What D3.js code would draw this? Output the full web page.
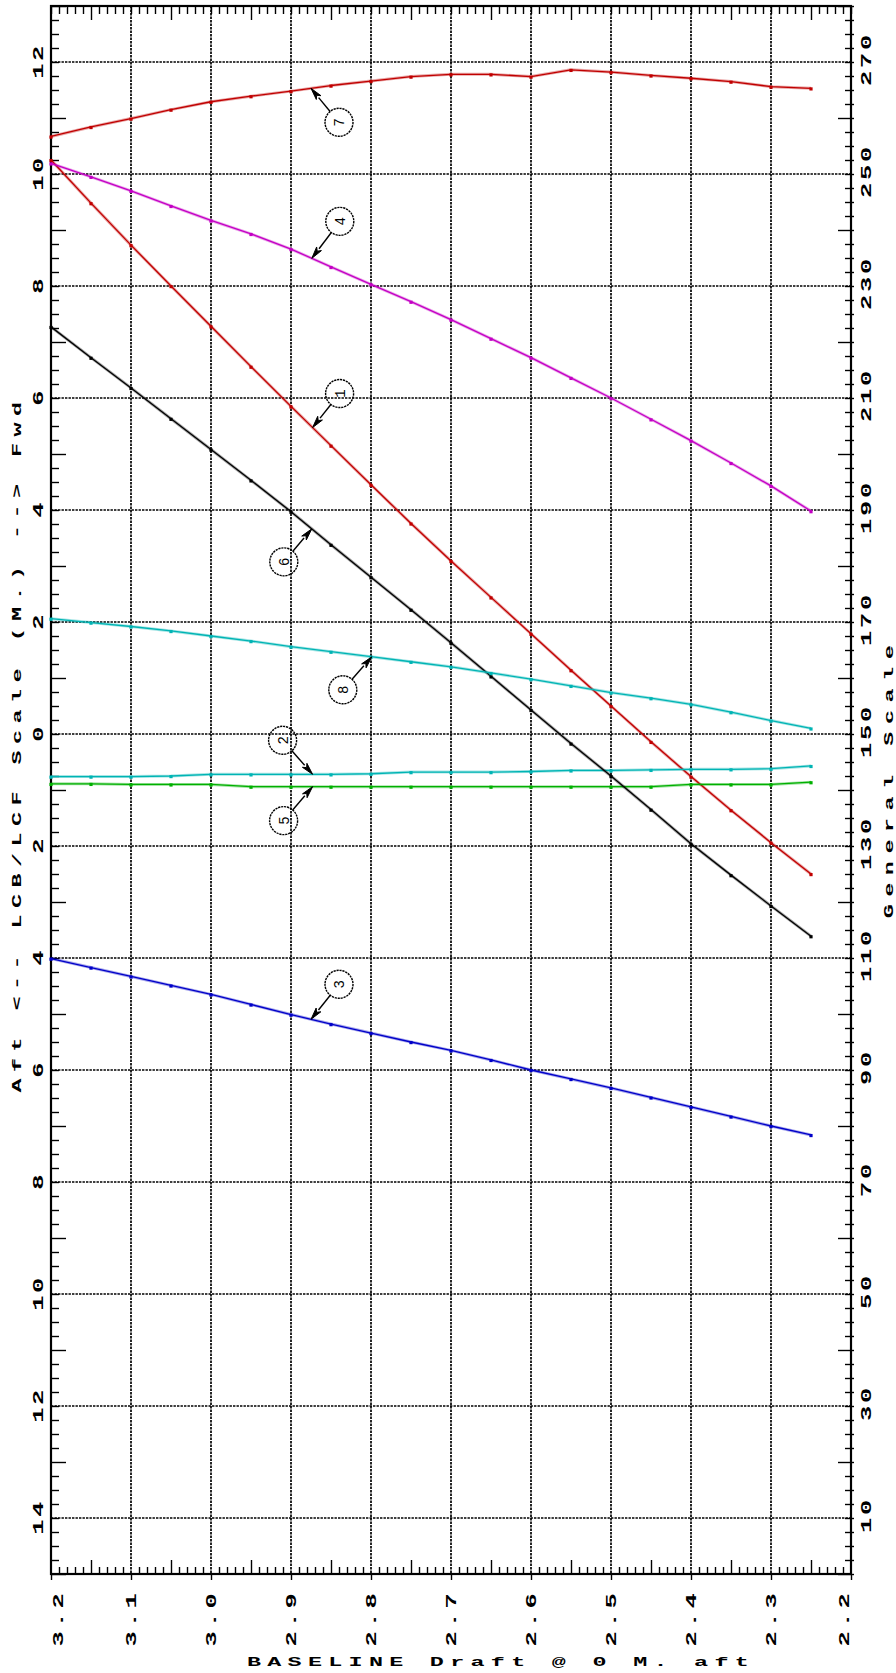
<!DOCTYPE html>
<html>
<head>
<meta charset="utf-8">
<script src="https://cdn.jsdelivr.net/npm/d3@7"></script>
<style>
  html, body { margin: 0; padding: 0; background: #fff; }
  svg { display: block; }
  text { font-family: "Liberation Mono", "DejaVu Sans Mono", monospace; font-weight: bold; fill: #000; }
</style>
</head>
<body>
<svg id="chart" width="896" height="1673"></svg>
<script>
// Baseline draft (m) sample positions shared by every curve
const drafts = [3.20, 3.15, 3.10, 3.05, 3.00, 2.95, 2.90, 2.85, 2.80, 2.75,
                2.70, 2.65, 2.60, 2.55, 2.50, 2.45, 2.40, 2.35, 2.30, 2.25];

// Curve values on the general scale
const curve1 = [252.5, 244.8, 237.3, 230.0, 222.8, 215.6, 208.5, 201.5, 194.5, 187.6,
                180.9, 174.4, 167.9, 161.4, 155.0, 148.6, 142.4, 136.4, 130.6, 125.0];
const curve2 = [142.4, 142.4, 142.4, 142.5, 142.8, 142.8, 142.8, 142.8, 142.9, 143.2,
                143.2, 143.2, 143.3, 143.5, 143.5, 143.6, 143.7, 143.7, 143.8, 144.3];
const curve3 = [109.9, 108.3, 106.7, 105.1, 103.5, 101.7, 99.9, 98.2, 96.6, 95.0,
                93.5, 91.8, 90.0, 88.4, 86.8, 85.1, 83.4, 81.7, 80.0, 78.4];
const curve4 = [251.9, 249.5, 247.0, 244.3, 241.7, 239.3, 236.6, 233.4, 230.3, 227.2,
                224.0, 220.6, 217.2, 213.6, 210.0, 206.2, 202.4, 198.4, 194.3, 189.8];
const curve5 = [141.1, 141.1, 141.0, 141.0, 141.0, 140.6, 140.6, 140.6, 140.6, 140.6,
                140.6, 140.6, 140.6, 140.6, 140.6, 140.6, 141.0, 141.0, 141.0, 141.4];
const curve6 = [222.7, 217.2, 211.8, 206.3, 200.8, 195.3, 189.7, 183.8, 178.0, 172.2,
                166.3, 160.3, 154.3, 148.3, 142.5, 136.5, 130.4, 124.8, 119.3, 113.9];
const curve7 = [256.7, 258.4, 259.9, 261.5, 262.9, 263.9, 264.8, 265.8, 266.6, 267.4,
                267.8, 267.8, 267.4, 268.6, 268.2, 267.6, 267.1, 266.5, 265.6, 265.3];
const curve8 = [170.6, 169.9, 169.2, 168.4, 167.5, 166.6, 165.6, 164.7, 163.8, 162.9,
                162.0, 160.9, 159.8, 158.6, 157.4, 156.4, 155.3, 153.9, 152.4, 151.0];

// Tick labels
const draftTickLabels   = ["3.2", "3.1", "3.0", "2.9", "2.8", "2.7", "2.6", "2.5", "2.4", "2.3", "2.2"];
const lcbTickValues     = [12, 10, 8, 6, 4, 2, 0, -2, -4, -6, -8, -10, -12, -14];
const lcbTickLabels     = ["12", "10", "8", "6", "4", "2", "0", "2", "4", "6", "8", "10", "12", "14"];
const generalTickLabels = ["270", "250", "230", "210", "190", "170", "150", "130", "110", "90", "70", "50", "30", "10"];

// Curve styling and callout placement
const curves = [
  { id: "1", values: curve1, color: "#c00000" },
  { id: "2", values: curve2, color: "#00b4b4" },
  { id: "3", values: curve3, color: "#0000c8" },
  { id: "4", values: curve4, color: "#c400c4" },
  { id: "5", values: curve5, color: "#00b000" },
  { id: "6", values: curve6, color: "#000000" },
  { id: "7", values: curve7, color: "#c00000" },
  { id: "8", values: curve8, color: "#00b4b4" }
];
const callouts = [
  { id: "7", at: 2.875, dx: 28,  dy: 34 },
  { id: "4", at: 2.874, dx: 28,  dy: -37 },
  { id: "1", at: 2.873, dx: 27,  dy: -34 },
  { id: "6", at: 2.874, dx: -28, dy: 33 },
  { id: "8", at: 2.799, dx: -29, dy: 33 },
  { id: "2", at: 2.873, dx: -30, dy: -34 },
  { id: "5", at: 2.873, dx: -29, dy: 34 },
  { id: "3", at: 2.875, dx: 28,  dy: -35 }
];

const svg = d3.select("#chart");
const M = { l: 51, r: 851, t: 6, b: 1574 };

const x  = d3.scaleLinear().domain([3.2, 2.2]).range([M.l, M.r]);
const yG = d3.scaleLinear().domain([0, 280]).range([M.b, M.t]);   // general scale
const yL = d3.scaleLinear().domain([-15, 13]).range([M.b, M.t]);  // LCB/LCF scale

const gridDash = "2.4 1.1";

// ---- grid ----
const grid = svg.append("g");
grid.selectAll("line.v").data(draftTickLabels.slice(1, -1)).join("line")
  .attr("class", "v")
  .attr("x1", d => x(+d)).attr("x2", d => x(+d))
  .attr("y1", M.t).attr("y2", M.b)
  .attr("stroke", "#000").attr("stroke-width", 1.7).attr("stroke-dasharray", gridDash);
grid.selectAll("line.h").data(lcbTickValues).join("line")
  .attr("class", "h")
  .attr("x1", M.l).attr("x2", M.r)
  .attr("y1", d => yL(d)).attr("y2", d => yL(d))
  .attr("stroke", "#000").attr("stroke-width", 1.7).attr("stroke-dasharray", gridDash);

// ---- axis ticks ----
const draftMinor = d3.range(0, 101).map(i => +(3.2 - i * 0.01).toFixed(2));
const draftIdx = d => Math.round((3.2 - d) / 0.01);
const lcbMinor = d3.range(0, 113).map(i => -15 + i * 0.25);
const isOdd = d => Number.isInteger(d) && Math.abs(d) % 2 === 1;

function styleAxis(g) {
  g.select(".domain").remove();
  g.selectAll(".tick text").remove();
  g.selectAll(".tick line").attr("stroke", "#000").attr("stroke-width", 1.4);
}

const gB = svg.append("g").attr("transform", `translate(0,${M.b})`)
  .call(d3.axisBottom(x).tickValues(draftMinor).tickSize(0).tickFormat(""));
styleAxis(gB);
gB.selectAll(".tick line")
  .attr("y1", d => draftIdx(d) % 10 === 0 ? 6 : 1)
  .attr("y2", d => draftIdx(d) % 10 === 0 ? 0 : (draftIdx(d) % 5 === 0 ? -14 : -7));

const gT = svg.append("g").attr("transform", `translate(0,${M.t})`)
  .call(d3.axisTop(x).tickValues(draftMinor).tickSize(0).tickFormat(""));
styleAxis(gT);
gT.selectAll(".tick line")
  .attr("y1", 0)
  .attr("y2", d => draftIdx(d) % 5 === 0 && draftIdx(d) % 10 !== 0 ? 14 : 8);

const gL = svg.append("g").attr("transform", `translate(${M.l},0)`)
  .call(d3.axisLeft(yL).tickValues(lcbMinor).tickSize(0).tickFormat(""));
styleAxis(gL);
gL.selectAll(".tick line").attr("x1", 0).attr("x2", d => isOdd(d) ? 15 : 8);

const gR = svg.append("g").attr("transform", `translate(${M.r},0)`)
  .call(d3.axisRight(yL).tickValues(lcbMinor).tickSize(0).tickFormat(""));
styleAxis(gR);
gR.selectAll(".tick line").attr("x1", 3).attr("x2", d => isOdd(d) ? -13 : -6);

// ---- frame ----
svg.append("rect")
  .attr("x", M.l).attr("y", M.t).attr("width", M.r - M.l).attr("height", M.b - M.t)
  .attr("fill", "none").attr("stroke", "#000").attr("stroke-width", 2.2);

// ---- rotated text helper ----
function vText(g, px, py, str, size, sx, ls) {
  return g.append("text")
    .attr("transform", `translate(${px},${py}) rotate(-90) scale(${sx},1)`)
    .attr("text-anchor", "middle")
    .attr("dy", "0.36em")
    .style("font-size", size + "px")
    .style("letter-spacing", ls + "px")
    .text(str);
}

const labels = svg.append("g");
draftTickLabels.forEach((lab, i) => {
  const shift = i === 0 ? 7 : (i === draftTickLabels.length - 1 ? -7 : 0);
  vText(labels, x(+lab) + shift, 1618, lab, 15, 1.7, 2.2);
});
lcbTickLabels.forEach((lab, i) => {
  vText(labels, 37.5, yL(lcbTickValues[i]) - 1, lab, 15, 1.7, 1.4);
});
generalTickLabels.forEach((lab, i) => {
  vText(labels, 866, yG(+lab) - 3, lab, 15, 1.7, 1.6);
});

// axis titles
vText(labels, 16, 744, "Aft <-- LCB/LCF Scale (M.) --> Fwd", 13, 1.8, 3.6);
vText(labels, 888, 778, "General Scale", 13, 1.8, 4.2);
labels.append("text")
  .attr("transform", `translate(501,1662) scale(1.8,1)`)
  .attr("text-anchor", "middle")
  .attr("dy", "0.32em")
  .style("font-size", "13px")
  .style("letter-spacing", "3.5px")
  .text("BASELINE Draft @ 0 M. aft");

// ---- curves ----
const line = d3.line().x((d, i) => x(drafts[i])).y(d => yG(d));
const curveG = svg.append("g");
curves.forEach(c => {
  const g = curveG.append("g");
  g.append("path").attr("d", line(c.values))
    .attr("fill", "none").attr("stroke", c.color).attr("stroke-opacity", 0.35)
    .attr("stroke-width", 3).attr("stroke-linejoin", "round");
  g.append("path").attr("d", line(c.values))
    .attr("fill", "none").attr("stroke", c.color)
    .attr("stroke-width", 1.3).attr("stroke-linejoin", "round");
  g.selectAll("rect").data(c.values).join("rect")
    .attr("x", (d, i) => x(drafts[i]) - 1.6)
    .attr("y", d => yG(d) - 1)
    .attr("width", 3.2).attr("height", 3.2)
    .attr("fill", c.color);
});

// ---- numbered callouts ----
const callG = svg.append("g");
callouts.forEach(co => {
  const c = curves.find(k => k.id === co.id);
  const interp = d3.scaleLinear().domain(drafts).range(c.values);
  const tx = x(co.at), ty = yG(interp(co.at));
  const cx = tx + co.dx, cy = ty + co.dy, r = 14;
  const len = Math.hypot(tx - cx, ty - cy);
  const ux = (tx - cx) / len, uy = (ty - cy) / len;
  const px = -uy, py = ux;
  const ah = 12, aw = 3;
  const bx = tx - ux * ah, by = ty - uy * ah;
  callG.append("line")
    .attr("x1", cx + ux * r).attr("y1", cy + uy * r)
    .attr("x2", bx).attr("y2", by)
    .attr("stroke", "#000").attr("stroke-width", 1.4);
  callG.append("path")
    .attr("d", `M${tx},${ty}L${bx + px * aw},${by + py * aw}L${bx + ux * 3},${by + uy * 3}L${bx - px * aw},${by - py * aw}Z`)
    .attr("fill", "#000").attr("stroke", "#000").attr("stroke-width", 1);
  callG.append("circle")
    .attr("cx", cx).attr("cy", cy).attr("r", r)
    .attr("fill", "none").attr("stroke", "#000")
    .attr("stroke-width", 1.4).attr("stroke-dasharray", "2.2 0.8");
  callG.append("text")
    .attr("transform", `translate(${cx},${cy}) rotate(-90)`)
    .attr("text-anchor", "middle").attr("dy", "0.35em")
    .style("font-size", "14px").style("font-weight", "normal")
    .text(co.id);
});
</script>
</body>
</html>
